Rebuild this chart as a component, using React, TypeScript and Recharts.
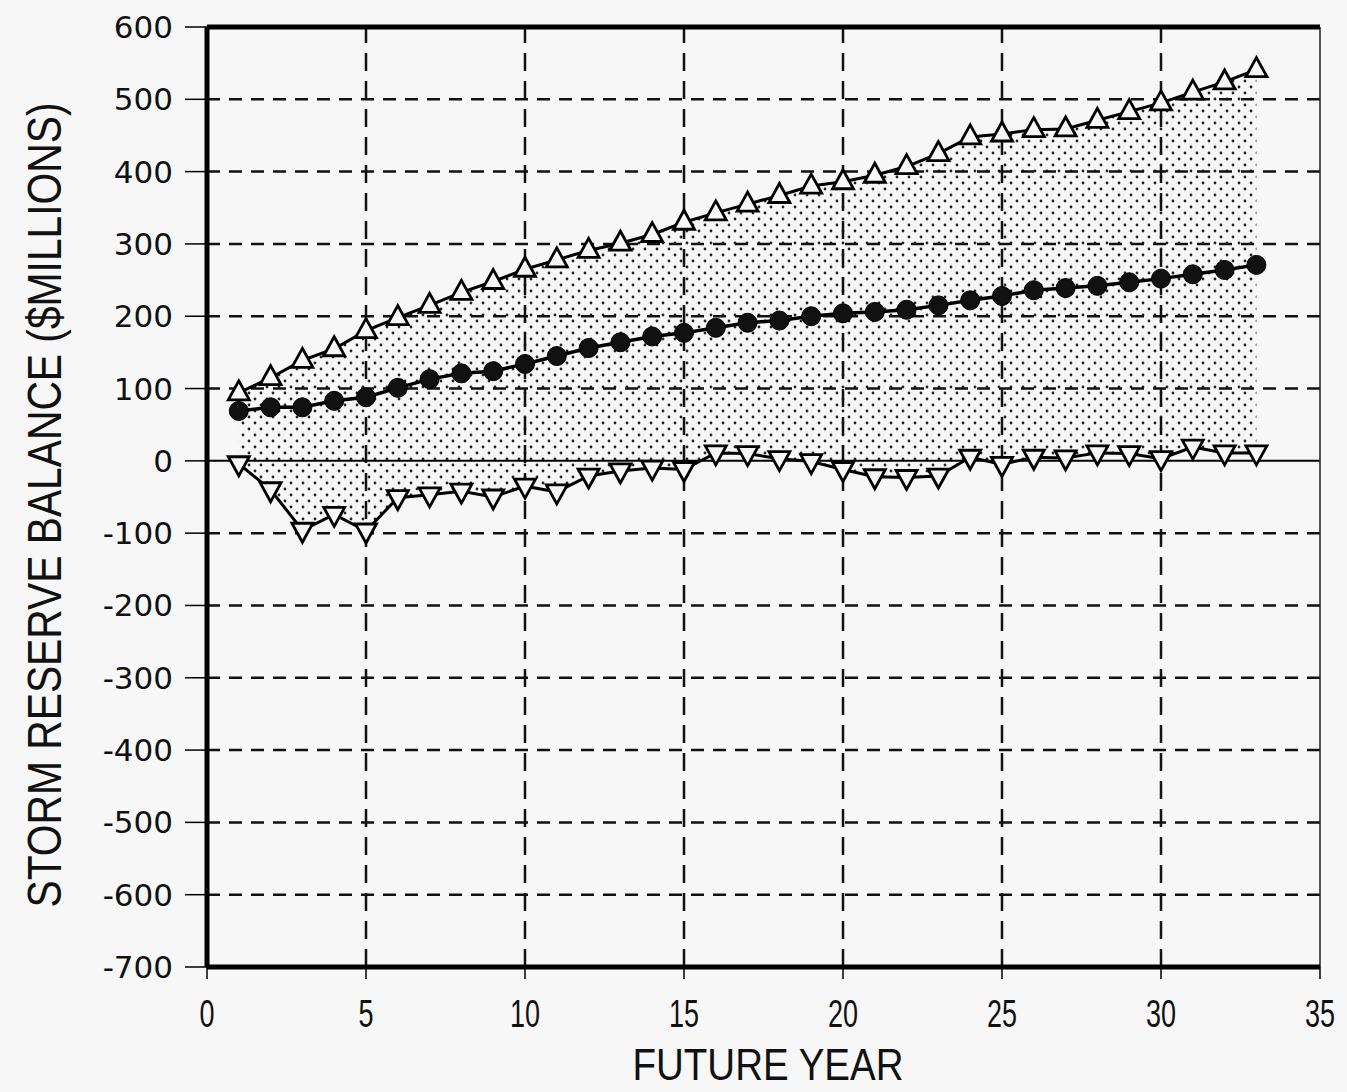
import React from "react";
import {
  ComposedChart,
  Line,
  Area,
  XAxis,
  YAxis,
  ReferenceLine,
  Label,
} from "recharts";

// Storm reserve balance by future year ($ millions)
const years = [1, 2, 3, 4, 5, 6, 7, 8, 9, 10, 11, 12, 13, 14, 15, 16, 17, 18, 19, 20, 21, 22, 23, 24, 25, 26, 27, 28, 29, 30, 31, 32, 33];
const upper = [94, 115, 139, 155, 180, 198, 215, 233, 248, 265, 278, 291, 301, 313, 330, 343, 355, 367, 380, 386, 395, 407, 425, 448, 452, 458, 459, 471, 483, 495, 510, 524, 541];
const mean = [69, 74, 74, 83, 88, 101, 113, 121, 124, 134, 145, 156, 164, 172, 177, 184, 191, 194, 200, 204, 206, 209, 215, 222, 228, 236, 239, 242, 247, 252, 258, 264, 271];
const lower = [-4, -40, -96, -74, -97, -51, -47, -42, -50, -35, -43, -21, -14, -10, -12, 11, 10, 3, -1, -12, -22, -23, -21, 5, -5, 5, 4, 11, 10, 3, 19, 11, 11];

const xTicks = [0, 5, 10, 15, 20, 25, 30, 35];
const yTicks = [600, 500, 400, 300, 200, 100, 0, -100, -200, -300, -400, -500, -600, -700];

const data = years.map((y, i) => ({
  year: y,
  upper: upper[i],
  mean: mean[i],
  lower: lower[i],
  band: [lower[i], upper[i]],
}));

const BG = "#f7f7f7";
const labelFont = "'Liberation Sans', Arial, sans-serif";

function TriUp(props: any) {
  const { cx, cy } = props;
  if (cx == null || cy == null) return <g key={props.index} />;
  const pts = `${cx},${cy - 12} ${cx - 10.5},${cy + 7} ${cx + 10.5},${cy + 7}`;
  return <polygon key={props.index} points={pts} fill={BG} stroke="#000" strokeWidth={2.8} />;
}

function TriDown(props: any) {
  const { cx, cy } = props;
  if (cx == null || cy == null) return <g key={props.index} />;
  const pts = `${cx},${cy + 12} ${cx - 10.5},${cy - 7} ${cx + 10.5},${cy - 7}`;
  return <polygon key={props.index} points={pts} fill={BG} stroke="#000" strokeWidth={2.8} />;
}

function Ball(props: any) {
  const { cx, cy } = props;
  if (cx == null || cy == null) return <g key={props.index} />;
  return <circle key={props.index} cx={cx} cy={cy} r={9.5} fill="#111" stroke="#000" strokeWidth={1} />;
}

function XTick(props: any) {
  const { x, y, payload } = props;
  const s = String(payload.value);
  return (
    <text
      x={x}
      y={y}
      dy="0.71em"
      textAnchor="middle"
      fontSize={38}
      fontFamily={labelFont}
      fill="#111"
      textLength={s.length * 15}
      lengthAdjust="spacingAndGlyphs"
    >
      {s}
    </text>
  );
}

export default function App() {
  return (
    <div style={{ position: "absolute", left: 0, top: 0, width: 1347, height: 1092, background: BG }}>
      <ComposedChart
        width={1347}
        height={1092}
        data={data}
        margin={{ top: 27, right: 27, bottom: 0, left: 0 }}
      >
        <defs>
          <pattern id="dots" width="12" height="12" patternUnits="userSpaceOnUse">
            <circle cx="3" cy="3" r="1.4" fill="#222" />
            <circle cx="9" cy="9" r="1.4" fill="#222" />
          </pattern>
        </defs>
        <XAxis
          dataKey="year"
          type="number"
          domain={[0, 35]}
          ticks={xTicks}
          height={125}
          tick={<XTick />}
          tickSize={12}
          tickMargin={21}
          tickLine={{ stroke: "#000", strokeWidth: 1.5 }}
          axisLine={{ stroke: "#000", strokeWidth: 5 }}
        >
          <Label
            content={() => (
              <text
                x={768}
                y={1080}
                textAnchor="middle"
                fontSize={44}
                fontFamily={labelFont}
                fill="#111"
                textLength={271}
                lengthAdjust="spacingAndGlyphs"
              >
                FUTURE YEAR
              </text>
            )}
          />
        </XAxis>
        <YAxis
          type="number"
          domain={[-700, 600]}
          ticks={yTicks}
          width={207}
          interval={0}
          tickSize={22}
          tickMargin={12}
          tick={{ fontSize: 31, fill: "#111", fontFamily: "'DejaVu Sans', sans-serif" }}
          tickLine={{ stroke: "#000", strokeWidth: 1.5 }}
          axisLine={{ stroke: "#000", strokeWidth: 5 }}
        >
          <Label
            content={() => (
              <text
                x={44}
                y={505}
                transform="rotate(-90 44 505)"
                textAnchor="middle"
                dominantBaseline="central"
                fontSize={48}
                fontFamily={labelFont}
                fill="#111"
                textLength={805}
                lengthAdjust="spacingAndGlyphs"
              >
                STORM RESERVE BALANCE ($MILLIONS)
              </text>
            )}
          />
        </YAxis>

        <Area
          dataKey="band"
          type="linear"
          stroke="none"
          fill="url(#dots)"
          fillOpacity={1}
          isAnimationActive={false}
        />

        {yTicks
          .filter((v) => v !== 600 && v !== -700 && v !== 0)
          .map((v) => (
            <ReferenceLine key={"h" + v} y={v} stroke="#111" strokeWidth={2.5} strokeDasharray="13 9" />
          ))}
        {xTicks
          .filter((v) => v !== 0 && v !== 35)
          .map((v) => (
            <ReferenceLine key={"v" + v} x={v} stroke="#111" strokeWidth={2.5} strokeDasharray="18 10" />
          ))}
        <ReferenceLine y={0} stroke="#000" strokeWidth={2} />
        <ReferenceLine y={600} stroke="#000" strokeWidth={5} />
        <ReferenceLine x={35} stroke="#222" strokeWidth={1.5} />

        <Line
          dataKey="upper"
          type="linear"
          stroke="#000"
          strokeWidth={3}
          dot={(p: any) => <TriUp key={p.index} {...p} />}
          activeDot={false}
          isAnimationActive={false}
        />
        <Line
          dataKey="lower"
          type="linear"
          stroke="#000"
          strokeWidth={3}
          dot={(p: any) => <TriDown key={p.index} {...p} />}
          activeDot={false}
          isAnimationActive={false}
        />
        <Line
          dataKey="mean"
          type="linear"
          stroke="#000"
          strokeWidth={3.5}
          dot={(p: any) => <Ball key={p.index} {...p} />}
          activeDot={false}
          isAnimationActive={false}
        />
      </ComposedChart>
    </div>
  );
}
